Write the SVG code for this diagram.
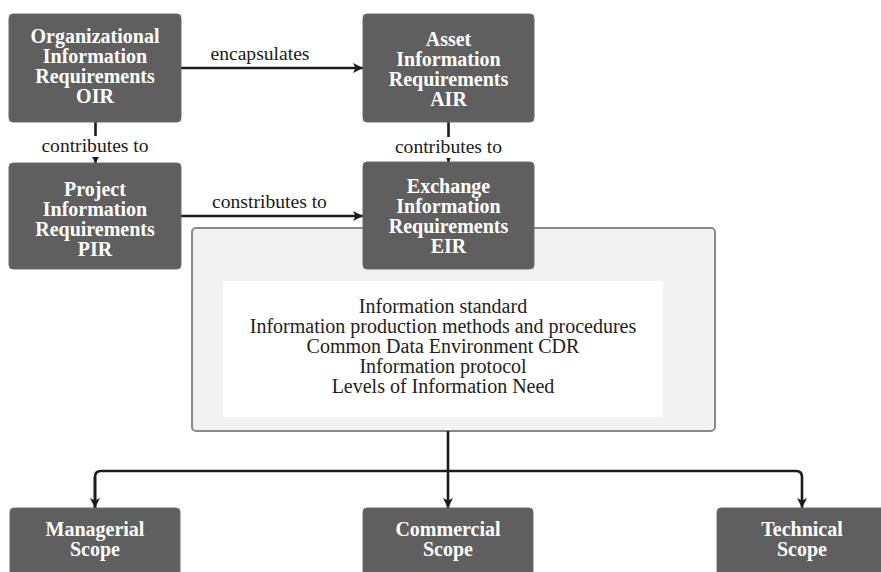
<svg xmlns="http://www.w3.org/2000/svg" width="881" height="572" viewBox="0 0 881 572">
<defs>
<style>
.node rect{fill:#5f5f5f;stroke:#6a6a6a;stroke-width:1}
.node text{fill:#ffffff;font-family:"Liberation Serif",serif;font-weight:bold;font-size:20px;text-anchor:middle}
.conn{fill:none;stroke:#1c1c1c;stroke-width:2.6}
.lbl{fill:#1a1a1a;font-family:"Liberation Serif",serif;font-size:19.6px;text-anchor:middle}
.body{fill:#222;font-family:"Liberation Serif",serif;font-size:20px;text-anchor:middle}
</style>
<marker id="arr" markerUnits="userSpaceOnUse" markerWidth="12" markerHeight="12" refX="10" refY="5" orient="auto">
<path d="M0,0 L10,5 L0,10 L2.5,5 Z" fill="#1c1c1c"/>
</marker>
<marker id="arrs" markerUnits="userSpaceOnUse" markerWidth="8" markerHeight="8" refX="6" refY="3.5" orient="auto">
<path d="M0,0 L6,3.5 L0,7 Z" fill="#1c1c1c"/>
</marker>
</defs>
<rect width="881" height="572" fill="#ffffff"/>

<g id="container">
<rect x="192" y="228" width="523" height="203" rx="4" fill="#f2f2f2" stroke="#8a8a8a" stroke-width="2"/>
<rect x="223" y="281" width="440" height="136" fill="#ffffff"/>
<text class="body" x="443" y="313">Information standard</text>
<text class="body" x="443" y="333">Information production methods and procedures</text>
<text class="body" x="443" y="353">Common Data Environment CDR</text>
<text class="body" x="443" y="373">Information protocol</text>
<text class="body" x="443" y="393">Levels of Information Need</text>
</g>

<g id="connectors">
<path class="conn" d="M181,68 H363" marker-end="url(#arr)"/>
<path class="conn" d="M181,216 H363" marker-end="url(#arr)"/>
<path class="conn" d="M95.5,122 V163" marker-end="url(#arrs)"/>
<path class="conn" d="M448.5,122 V162" marker-end="url(#arrs)"/>
<path class="conn" d="M448,431 V508" marker-end="url(#arr)"/>
<path class="conn" d="M95,508 V477 Q95,471 101,471 H796 Q802,471 802,477 V508" marker-end="url(#arr)"/>
<path class="conn" d="M95,477 V508" marker-end="url(#arr)"/>
<rect x="38" y="136" width="114" height="21" fill="#ffffff"/>
<rect x="391" y="137" width="115" height="21" fill="#ffffff"/>
<text class="lbl" x="260" y="60">encapsulates</text>
<text class="lbl" x="269.5" y="208">constributes to</text>
<text class="lbl" x="95" y="152">contributes to</text>
<text class="lbl" x="448.5" y="153">contributes to</text>
</g>

<g id="oir" class="node">
<rect x="9" y="14" width="172" height="108" rx="4"/>
<text x="95" y="43">Organizational</text>
<text x="95" y="63">Information</text>
<text x="95" y="83">Requirements</text>
<text x="95" y="103">OIR</text>
</g>
<g id="air" class="node">
<rect x="363" y="14" width="171" height="108" rx="4"/>
<text x="448.5" y="46">Asset</text>
<text x="448.5" y="66">Information</text>
<text x="448.5" y="86">Requirements</text>
<text x="448.5" y="106">AIR</text>
</g>
<g id="pir" class="node">
<rect x="9" y="163" width="172" height="106" rx="4"/>
<text x="95" y="196">Project</text>
<text x="95" y="216">Information</text>
<text x="95" y="236">Requirements</text>
<text x="95" y="256">PIR</text>
</g>
<g id="eir" class="node">
<rect x="363" y="162" width="171" height="107" rx="4"/>
<text x="448.5" y="193">Exchange</text>
<text x="448.5" y="213">Information</text>
<text x="448.5" y="233">Requirements</text>
<text x="448.5" y="253">EIR</text>
</g>
<g id="managerial" class="node">
<rect x="10" y="508" width="170" height="80" rx="4"/>
<text x="95" y="536">Managerial</text>
<text x="95" y="556">Scope</text>
</g>
<g id="commercial" class="node">
<rect x="363" y="508" width="170" height="80" rx="4"/>
<text x="448" y="536">Commercial</text>
<text x="448" y="556">Scope</text>
</g>
<g id="technical" class="node">
<rect x="717" y="508" width="170" height="80" rx="4"/>
<text x="802" y="536">Technical</text>
<text x="802" y="556">Scope</text>
</g>
</svg>
